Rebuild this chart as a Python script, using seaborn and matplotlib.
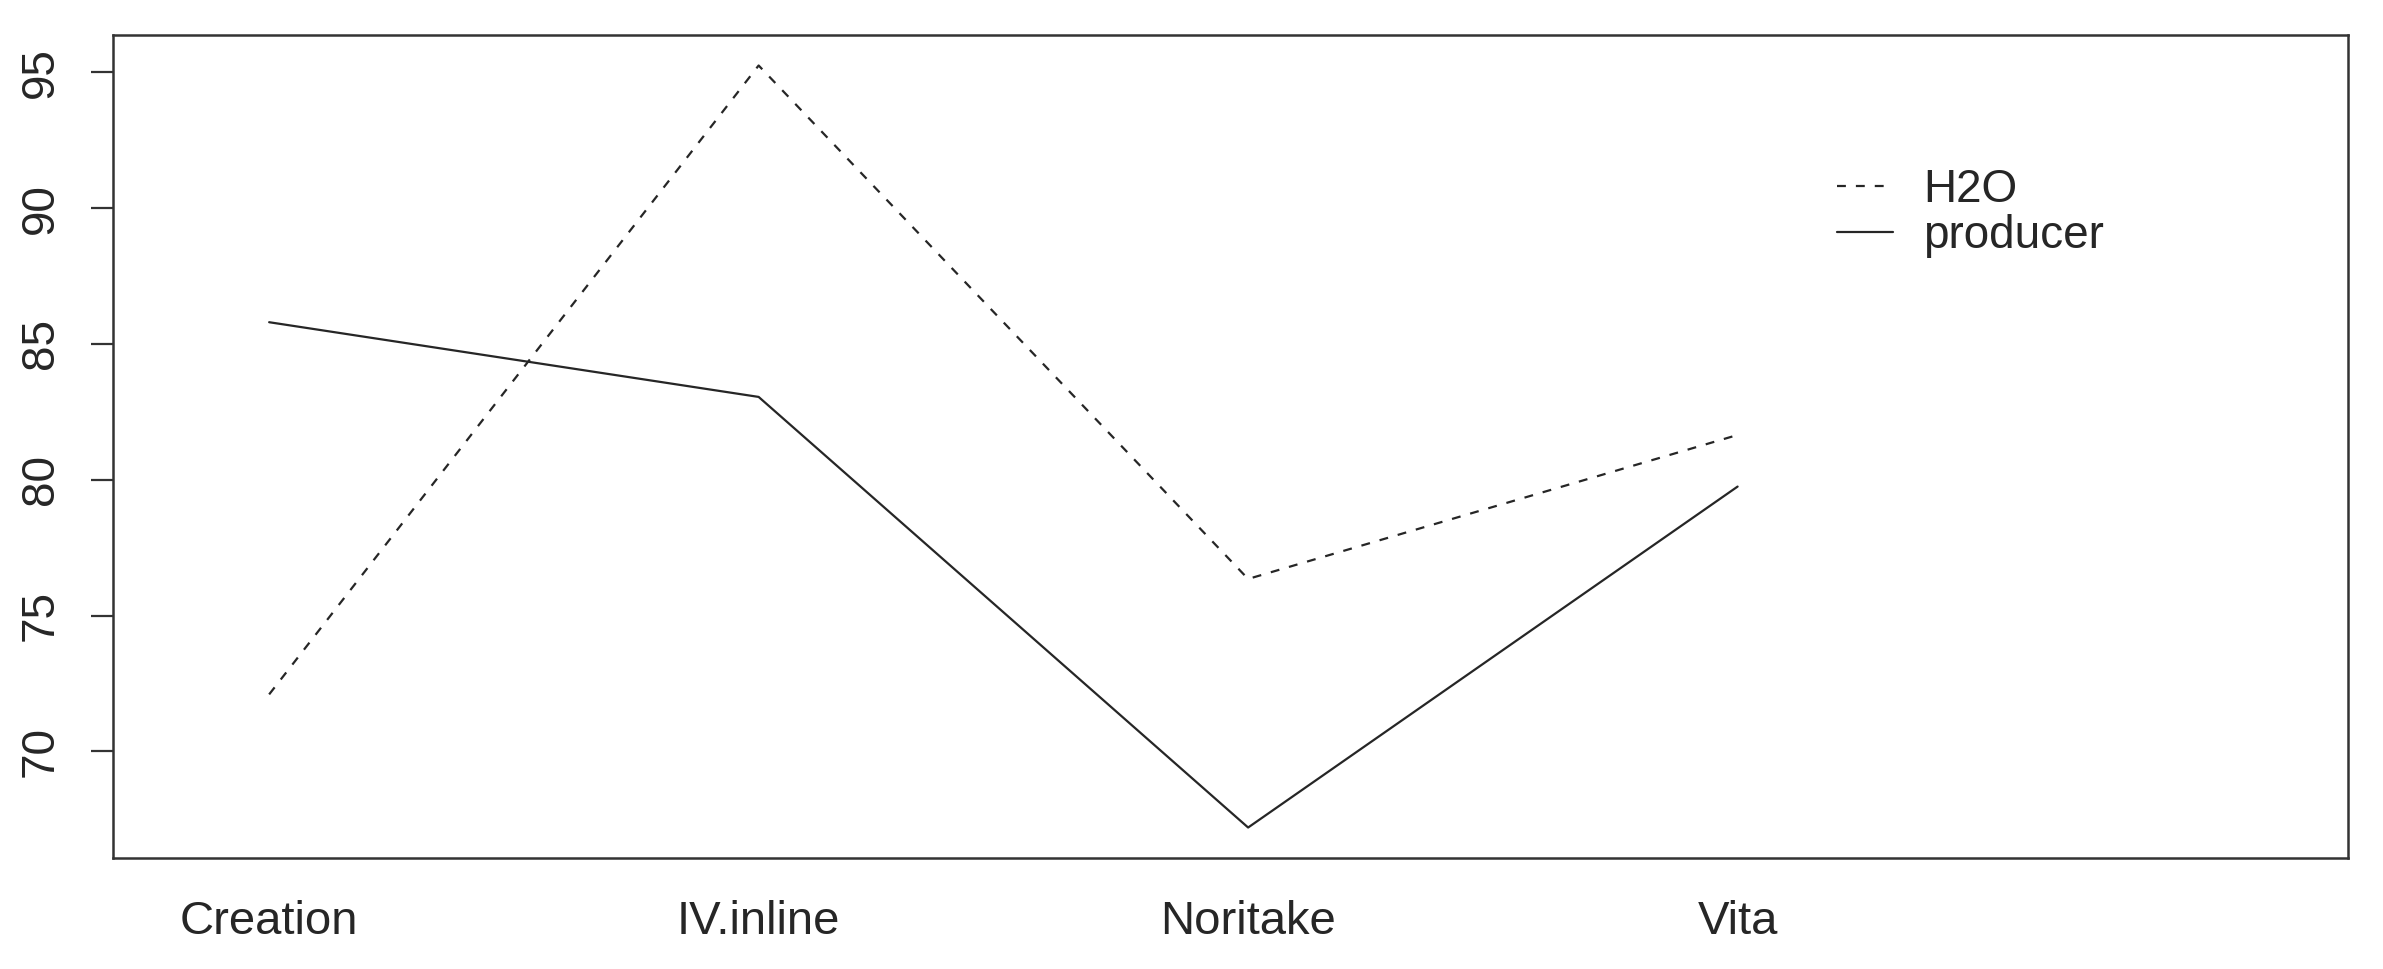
import matplotlib
matplotlib.use('Agg')
import matplotlib.pyplot as plt
import seaborn as sns
import pandas as pd
import numpy as np

# interaction plot: mean response per brand, two factors
brands = ['Creation', 'IV.inline', 'Noritake', 'Vita']
h2o = [72.1, 95.25, 76.35, 81.65]
producer = [85.8, 83.05, 67.2, 79.75]
series_names = ['H2O', 'producer']
y_ticks = [70, 75, 80, 85, 90, 95]

df = pd.DataFrame({
    'brand': brands * 2,
    'value': h2o + producer,
    'series': [series_names[0]] * len(brands) + [series_names[1]] * len(brands),
})

sns.set_theme(style='white')
plt.rcParams['font.family'] = ['Liberation Sans', 'DejaVu Sans']

fig = plt.figure(figsize=(23.83, 9.69), dpi=100)
ax = fig.add_axes([113 / 2383, 1 - 858 / 969, (2348 - 113) / 2383, (858 - 35) / 969])

sns.lineplot(data=df, x='brand', y='value', style='series',
             style_order=series_names,
             dashes={'H2O': (4, 4.5), 'producer': ''},
             color='#262626', linewidth=1.6, sort=False, ax=ax)

# R-style limits: 4% padding on y, extra room on the right for the legend
vals = np.array(h2o + producer)
pad = 0.04 * (vals.max() - vals.min())
ax.set_ylim(vals.min() - pad, vals.max() + pad)
ax.set_xlim(-0.319, 4.247)

ax.set_yticks(y_ticks)
ax.set_yticklabels([str(t) for t in y_ticks], rotation=90, va='center', fontsize=33)
ax.tick_params(axis='y', length=16, width=1.6, color='#333333', pad=20, left=True)
ax.tick_params(axis='x', length=0, pad=30, labelsize=34)
ax.set_xlabel('')
ax.set_ylabel('')

for sp in ax.spines.values():
    sp.set_visible(True)
    sp.set_color('#333333')
    sp.set_linewidth(1.8)

handles, labels = ax.get_legend_handles_labels()
ax.legend(handles, labels, loc='upper left', frameon=False,
          bbox_to_anchor=(1837 / 2383, 1 - 168 / 969),
          bbox_transform=fig.transFigure, fontsize=33,
          handlelength=1.22, handletextpad=0.66, labelspacing=0.05,
          borderpad=0, borderaxespad=0)

fig.savefig('out.png', dpi=100, facecolor='white')
